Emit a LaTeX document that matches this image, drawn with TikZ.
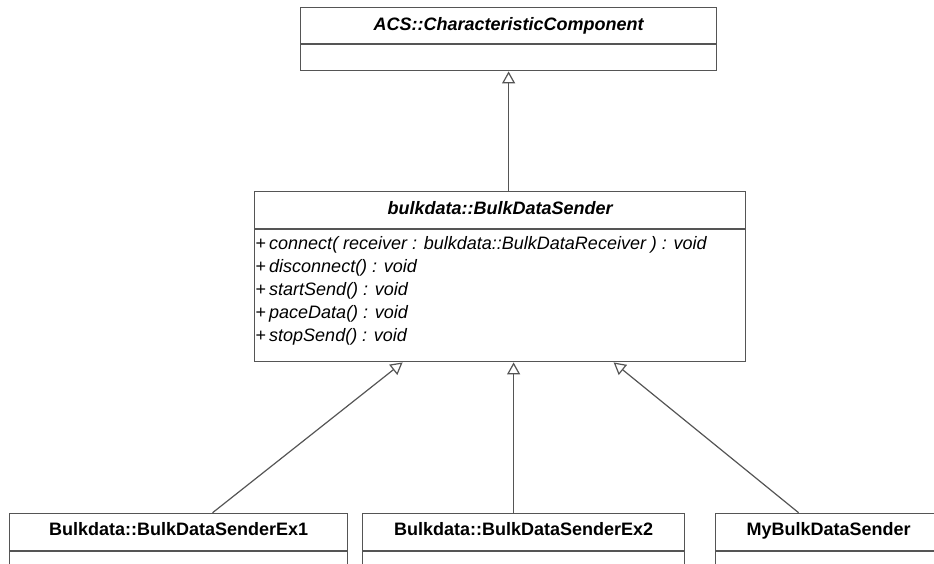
\documentclass[tikz,border=0pt]{standalone}
\usepackage{fontspec}
\setmainfont{Liberation Sans}
\usetikzlibrary{arrows.meta,positioning}
\definecolor{umlline}{HTML}{555555}
\tikzset{
  cls/.style={draw=umlline, line width=1.2pt, inner sep=0pt, font=\fontsize{18}{23}\selectfont},
  clshead/.style={cls, anchor=north west, text height=13pt, text depth=4pt},
  clsbody/.style={cls, anchor=north},
  isa/.style={draw=umlline, line width=1.2pt, -{Triangle[open, fill=white, length=12pt, width=13pt]}},
}
\begin{document}
\begin{tikzpicture}[x=1pt,y=-1pt]
\useasboundingbox (0,0) rectangle (934,563);
\clip (0,0) rectangle (934,563);
% top class
\node[clshead, minimum width=416pt, minimum height=36pt] (acsT) at (300,7) {\bfseries\itshape ACS::CharacteristicComponent};
\node[clsbody, minimum width=416pt, minimum height=26pt] (acsB) at (acsT.south) {};
% sender
\node[clshead, minimum width=491pt, minimum height=37pt] (sendT) at (254,191) {\bfseries\itshape bulkdata::BulkDataSender};
\node[clsbody, minimum width=491pt, minimum height=132pt] (sendB) at (sendT.south) {};
\node[inner sep=0pt, anchor=north west, align=left, font=\fontsize{18}{23}\selectfont] (sendOps) at ([xshift=1.5pt, yshift=-7pt]sendB.north west)
  {+\,\textit{connect( receiver : bulkdata::BulkDataReceiver ) : void}\\
   +\,\textit{disconnect() : void}\\
   +\,\textit{startSend() : void}\\
   +\,\textit{paceData() : void}\\
   +\,\textit{stopSend() : void}};
% subclasses
\node[clshead, minimum width=338pt, minimum height=37.3pt, text depth=6pt] (ex1T) at (9,512.7) {\bfseries Bulkdata::BulkDataSenderEx1};
\node[clsbody, minimum width=338pt, minimum height=40pt] (ex1B) at (ex1T.south) {};
\node[clshead, minimum width=322pt, minimum height=37.3pt, text depth=6pt] (ex2T) at (362,512.7) {\bfseries Bulkdata::BulkDataSenderEx2};
\node[clsbody, minimum width=322pt, minimum height=40pt] (ex2B) at (ex2T.south) {};
\node[clshead, minimum width=226pt, minimum height=37.3pt, text depth=6pt] (myT) at (715,512.7) {\bfseries MyBulkDataSender};
\node[clsbody, minimum width=226pt, minimum height=40pt] (myB) at (myT.south) {};
% generalisations
\draw[isa] (sendT.north -| acsB.south) -- (acsB.south);
\draw[isa] ([xshift=34pt]ex1T.north) -- ([xshift=-97.5pt]sendB.south);
\draw[isa] ([xshift=-10pt]ex2T.north) -- ([xshift=13.5pt]sendB.south);
\draw[isa] ([xshift=-30pt]myT.north) -- ([xshift=113.5pt]sendB.south);
\end{tikzpicture}
\end{document}
